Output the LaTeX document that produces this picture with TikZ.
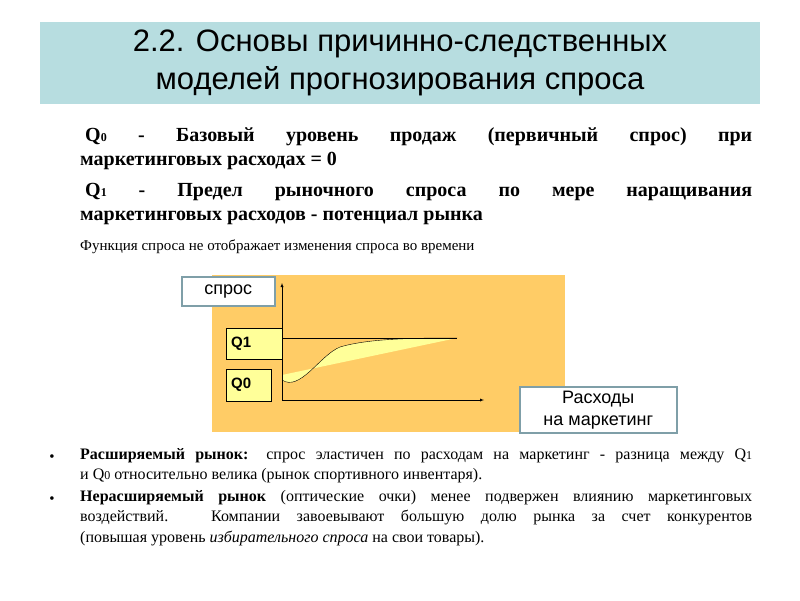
\documentclass[tikz,border=0pt]{standalone}
\usepackage{fontspec}
\setmainfont{Liberation Serif}
\newfontfamily\arialf{Liberation Sans}
\definecolor{band}{HTML}{B7DDE0}
\definecolor{orng}{HTML}{FFCC66}
\definecolor{lyel}{HTML}{FFFF99}
\definecolor{bgray}{HTML}{7F9FA8}
\newcommand{\sm}[1]{{\fontsize{12}{12}\selectfont #1}}
\tikzset{lbl/.style={draw=bgray,line width=1.5pt,fill=white,inner sep=0pt,font=\arialf\fontsize{18}{22}\selectfont,align=center},
qbox/.style={draw=black,fill=lyel,inner sep=0pt,font=\arialf\bfseries\fontsize{15}{17}\selectfont},
para/.style={anchor=north west,inner sep=0pt,text width=672pt,align=justify}}
\begin{document}
\begin{tikzpicture}[x=1pt,y=-1pt]
\useasboundingbox (0,0) rectangle (800,600);
\fill[band] (40,22) rectangle (760,104);
\node[font=\arialf\fontsize{31}{38}\selectfont,align=center] (title) at (400,63) {2.2. Основы причинно-следственных\\моделей прогнозирования спроса};
\node[para,font=\bfseries\fontsize{20}{24}\selectfont] (p1) at (80,127) {\hspace*{5pt}Q\sm{0} - Базовый уровень продаж (первичный спрос) при\linebreak маркетинговых расходах = 0};
\node[para,font=\bfseries\fontsize{20}{24}\selectfont] (p2) at (80,183) {\hspace*{5pt}Q\sm{1} - Предел рыночного спроса по мере наращивания\linebreak маркетинговых расходов - потенциал рынка};
\node[anchor=north west,inner sep=0pt,font=\fontsize{15}{18}\selectfont] (p3) at (80,240) {Функция спроса не отображает изменения\ спроса во времени};
% chart
\fill[orng] (212,275) rectangle (565,432);
\coordinate (o) at (282,400);
\coordinate (yt) at (282,283);
\coordinate (xt) at (484,400);
\fill[lyel] (282,380) .. controls (300,392) and (320,355) .. (340,347) .. controls (370,338) and (420,338) .. (457,338) -- (282,375) -- cycle;
\draw[black] (282,380) .. controls (300,392) and (320,355) .. (340,347) .. controls (370,338) and (420,338) .. (457,338);
\draw[-latex] (o) -- (yt);
\draw[-latex] (o) -- (xt);
\coordinate (q1e) at (457,338);
\node[qbox,minimum width=56pt,minimum height=31pt,anchor=north west,text width=46pt,align=left] (q1) at (226,328) {Q1};
\node[qbox,minimum width=45pt,minimum height=32pt,anchor=north west,text width=35pt,align=left] (q0) at (226,369) {Q0};
\draw (282,338) -- (q1e);
\node[lbl,minimum width=93pt,minimum height=29pt,anchor=north west] (sp) at (181,276) {спрос};
\node[lbl,minimum width=157pt,minimum height=46pt,anchor=north west] (rx) at (519,386) {Расходы\\на маркетинг};
% bullets
\node[para,font=\fontsize{16}{20.5}\selectfont] (b1) at (80,448) {\textbf{Расширяемый рынок:} спрос эластичен по расходам на маркетинг - разница между Q\sm{1}\linebreak и Q\sm{0}\ относительно велика (рынок спортивного инвентаря).};
\node[para,font=\fontsize{16}{20.5}\selectfont] (b2) at (80,490) {\textbf{Нерасширяемый рынок} (оптические очки) менее подвержен влиянию маркетинговых\linebreak воздействий. Компании завоевывают большую долю рынка за счет конкурентов\linebreak (повышая уровень \textit{избирательного спроса} на свои товары).};
\node[font=\fontsize{15}{20}\selectfont,inner sep=0pt] (d1) at (52,458) {•};
\node[font=\fontsize{15}{20}\selectfont,inner sep=0pt] (d2) at (52,500) {•};
\end{tikzpicture}
\end{document}
